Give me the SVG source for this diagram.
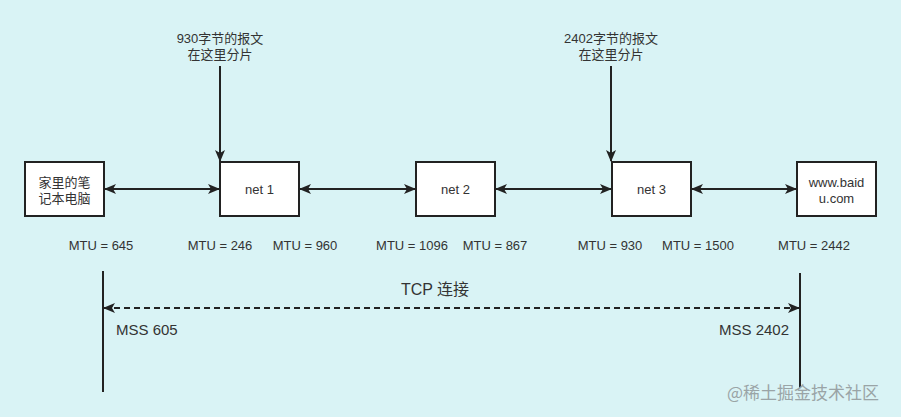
<svg xmlns="http://www.w3.org/2000/svg" width="901" height="417" viewBox="0 0 901 417">
<defs>
<style>
.t{font-family:"Liberation Sans","Noto Sans CJK SC",sans-serif;fill:#333;}
.box{fill:#fff;stroke:#222;stroke-width:2;}
.ln{stroke:#222;stroke-width:2;fill:none;}
.mtu{font-family:"Liberation Sans","Noto Sans CJK SC",sans-serif;font-size:13px;fill:#333;text-anchor:middle;}
</style>
<marker id="ah" viewBox="0 0 12 10" refX="11" refY="5" markerWidth="12" markerHeight="10" markerUnits="userSpaceOnUse" orient="auto-start-reverse">
<path d="M0,0 L12,5 L0,10 L3,5 Z" fill="#222"/>
</marker>
</defs>
<rect width="901" height="417" fill="#d9f3f5"/>
<g id="connectors">
<line class="ln" x1="105" y1="189" x2="219" y2="189" marker-start="url(#ah)" marker-end="url(#ah)"/>
<line class="ln" x1="300" y1="189" x2="415" y2="189" marker-start="url(#ah)" marker-end="url(#ah)"/>
<line class="ln" x1="496" y1="189" x2="611" y2="189" marker-start="url(#ah)" marker-end="url(#ah)"/>
<line class="ln" x1="692" y1="189" x2="796" y2="189" marker-start="url(#ah)" marker-end="url(#ah)"/>
<line class="ln" x1="220" y1="66" x2="220" y2="161" marker-end="url(#ah)"/>
<line class="ln" x1="611" y1="66" x2="611" y2="161" marker-end="url(#ah)"/>
<line class="ln" x1="103" y1="271" x2="103" y2="392"/>
<line class="ln" x1="800" y1="273" x2="800" y2="388"/>
<line class="ln" x1="104" y1="308" x2="799" y2="308" stroke-dasharray="6 4" marker-start="url(#ah)" marker-end="url(#ah)"/>
</g>
<g id="note1">
<text class="t" font-size="13" text-anchor="middle"><tspan x="220" y="43">930字节的报文</tspan><tspan x="220" y="59">在这里分片</tspan></text>
</g>
<g id="note2">
<text class="t" font-size="13" text-anchor="middle"><tspan x="611" y="43">2402字节的报文</tspan><tspan x="611" y="59">在这里分片</tspan></text>
</g>
<g id="laptop">
<rect class="box" x="25" y="162" width="79" height="54"/>
<text class="t" font-size="13" text-anchor="middle"><tspan x="64.5" y="187">家里的笔</tspan><tspan x="64.5" y="203">记本电脑</tspan></text>
</g>
<g id="net1">
<rect class="box" x="220" y="162" width="79" height="54"/>
<text class="t" font-size="13" text-anchor="middle" x="259.5" y="194">net 1</text>
</g>
<g id="net2">
<rect class="box" x="416" y="162" width="79" height="54"/>
<text class="t" font-size="13" text-anchor="middle" x="455.5" y="194">net 2</text>
</g>
<g id="net3">
<rect class="box" x="612" y="162" width="79" height="54"/>
<text class="t" font-size="13" text-anchor="middle" x="651.5" y="194">net 3</text>
</g>
<g id="baidu">
<rect class="box" x="797" y="162" width="79" height="54"/>
<text class="t" font-size="13" text-anchor="middle"><tspan x="836.5" y="187">www.baid</tspan><tspan x="836.5" y="203">u.com</tspan></text>
</g>
<g id="mtu-labels">
<text class="mtu" x="101" y="250">MTU = 645</text>
<text class="mtu" x="220" y="250">MTU = 246</text>
<text class="mtu" x="305" y="250">MTU = 960</text>
<text class="mtu" x="412" y="250">MTU = 1096</text>
<text class="mtu" x="495" y="250">MTU = 867</text>
<text class="mtu" x="610" y="250">MTU = 930</text>
<text class="mtu" x="698" y="250">MTU = 1500</text>
<text class="mtu" x="814" y="250">MTU = 2442</text>
</g>
<g id="tcp">
<text class="t" font-size="16" text-anchor="middle" x="435" y="295">TCP 连接</text>
<text class="t" font-size="15" x="116" y="335">MSS 605</text>
<text class="t" font-size="15" text-anchor="end" x="789" y="335">MSS 2402</text>
</g>
<text font-family="Noto Sans CJK SC,sans-serif" font-size="17" fill="#9aa4a6" x="727" y="399">@稀土掘金技术社区</text>
</svg>
